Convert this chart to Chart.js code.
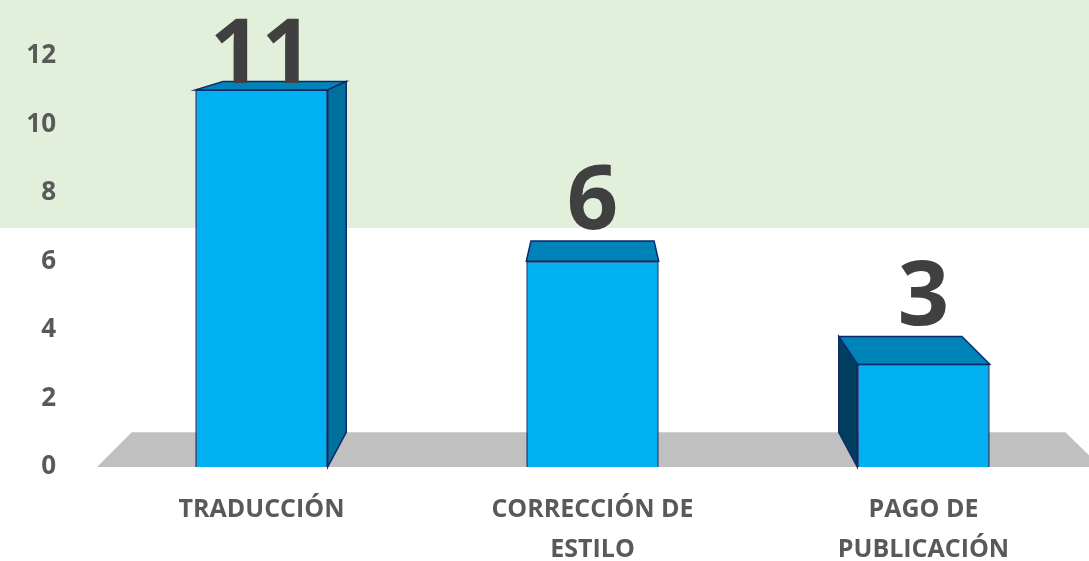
<!DOCTYPE html>
<html>
<head>
<meta charset="utf-8">
<script src="https://cdn.jsdelivr.net/npm/chart.js@4.4.0/dist/chart.umd.min.js"></script>
<style>
  body { margin: 0; background: #ffffff; }
  #wrap { width: 1089px; height: 561px; position: relative; }
</style>
</head>
<body>
<div id="wrap"><canvas id="grafico"></canvas></div>
<script>
// datos
var categorias = [["TRADUCCIÓN"], ["CORRECCIÓN DE", "ESTILO"], ["PAGO DE", "PUBLICACIÓN"]];
var valores = [11, 6, 3];
var ticksY = [0, 2, 4, 6, 8, 10, 12];

// perspectiva de las caras traseras
function fondo(px, py, vx) {
    return [px + (vx - px) * 0.07, py - (py + 30) * 0.07];
}

var barras3d = {
    id: 'barras3d',
    beforeDraw: function (chart) {
        var ctx = chart.ctx;
        ctx.save();
        ctx.fillStyle = '#e2efda';
        ctx.fillRect(0, 0, chart.width, 228);
        ctx.restore();
    },
    beforeDatasetsDraw: function (chart) {
        var ctx = chart.ctx;
        var area = chart.chartArea;
        var y = chart.scales.y;
        var vx = (area.left + area.right) / 2;
        var y0 = y.getPixelForValue(0);

        // piso gris
        var fl = area.left + 1, fr = area.right + 12;
        var bl = fondo(fl, y0, vx), br = fondo(fr, y0, vx);
        ctx.save();
        ctx.fillStyle = '#c0c0c0';
        ctx.beginPath();
        ctx.moveTo(fl, y0);
        ctx.lineTo(fr, y0);
        ctx.lineTo(br[0], br[1]);
        ctx.lineTo(bl[0], bl[1]);
        ctx.closePath();
        ctx.fill();

        ctx.strokeStyle = '#0d2a6b';
        ctx.lineWidth = 1.5;
        var meta = chart.getDatasetMeta(0);
        meta.data.forEach(function (bar) {
            var izq = bar.x - bar.width / 2, der = bar.x + bar.width / 2;
            var top = bar.y, base = bar.base;
            // cara superior
            var a = fondo(izq, top, vx), b = fondo(der, top, vx);
            ctx.fillStyle = '#0083b8';
            ctx.beginPath();
            ctx.moveTo(izq, top);
            ctx.lineTo(der, top);
            ctx.lineTo(b[0], b[1]);
            ctx.lineTo(a[0], a[1]);
            ctx.closePath();
            ctx.fill();
            ctx.stroke();
            // cara lateral
            var lado = null;
            if (der < vx - 20) { lado = der; ctx.fillStyle = '#00719c'; }
            if (izq > vx + 20) { lado = izq; ctx.fillStyle = '#00405e'; }
            if (lado !== null) {
                var t = fondo(lado, top, vx), s = fondo(lado, base, vx);
                ctx.beginPath();
                ctx.moveTo(lado, top);
                ctx.lineTo(lado, base);
                ctx.lineTo(s[0], s[1]);
                ctx.lineTo(t[0], t[1]);
                ctx.closePath();
                ctx.fill();
                ctx.stroke();
            }
        });
        ctx.restore();
    },
    afterDatasetsDraw: function (chart) {
        var ctx = chart.ctx;
        var area = chart.chartArea;
        var vx = (area.left + area.right) / 2;
        var meta = chart.getDatasetMeta(0);
        ctx.save();
        ctx.fillStyle = '#404040';
        ctx.font = 'bold 90px "Open Sans"';
        ctx.textAlign = 'center';
        ctx.textBaseline = 'alphabetic';
        meta.data.forEach(function (bar, i) {
            var p = fondo(bar.x, bar.y, vx);
            var ajuste = i === 0 ? 2 : -12;
            ctx.fillText(String(valores[i]), bar.x, p[1] + ajuste);
        });
        ctx.restore();
    }
};

var ctx = document.getElementById("grafico");
var chartGraph = new Chart(ctx, {
    type: 'bar',
    data: {
        labels: categorias,
        datasets: [{
            label: 'Cantidad',
            data: valores,
            backgroundColor: '#00b0f0',
            borderColor: '#0d2a6b',
            borderWidth: 1.5,
            barPercentage: 0.4,
            categoryPercentage: 1
        }]
    },
    options: {
        responsive: true,
        maintainAspectRatio: false,
        animation: false,
        layout: {
            padding: { top: 52, right: 0, bottom: 0, left: 0 }
        },
        plugins: {
            legend: { display: false },
            tooltip: { enabled: false }
        },
        scales: {
            x: {
                grid: { display: false, drawTicks: false },
                border: { display: false },
                ticks: {
                    color: '#595959',
                    padding: 23,
                    maxRotation: 0,
                    autoSkip: false,
                    font: { family: '"Open Sans"', size: 25, weight: 'bold', lineHeight: 1.6 }
                },
                afterFit: function (scale) { scale.height = 94; }
            },
            y: {
                min: 0,
                max: 12,
                grid: { display: false, drawTicks: false },
                border: { display: false },
                afterBuildTicks: function (scale) {
                    scale.ticks = ticksY.map(function (v) { return { value: v }; });
                },
                ticks: {
                    color: '#595959',
                    padding: 40,
                    font: { family: '"Open Sans"', size: 26, weight: 'bold' }
                },
                afterFit: function (scale) { scale.width = 96; }
            }
        }
    },
    plugins: [barras3d]
});
</script>
</body>
</html>
